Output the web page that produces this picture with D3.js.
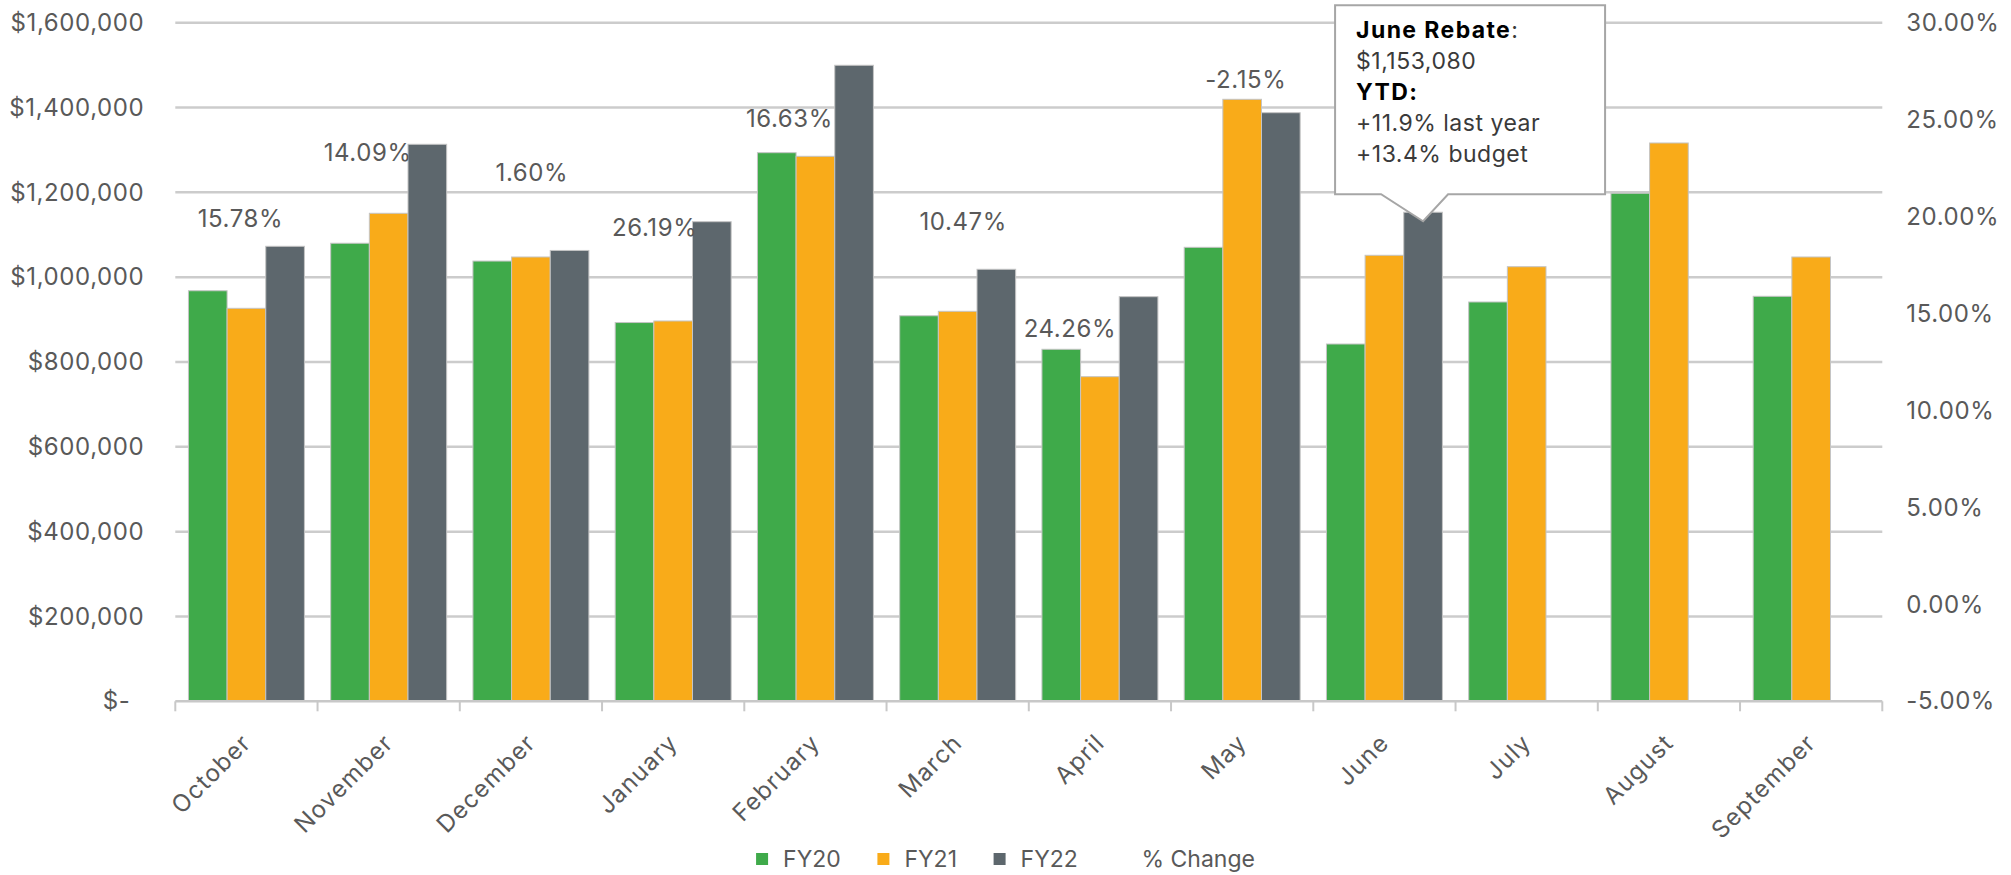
<!DOCTYPE html>
<html>
<head>
<meta charset="utf-8">
<script src="https://cdn.jsdelivr.net/npm/d3@7"></script>
<style>
  body { margin: 0; background: #fff; }
  svg { display: block; font-family: Inter, "DejaVu Sans", sans-serif; }
</style>
</head>
<body>
<div id="chart"></div>
<script>
// ---- data ----
const months = ["October", "November", "December", "January", "February", "March",
                "April", "May", "June", "July", "August", "September"];
const seriesNames = ["FY20", "FY21", "FY22"];
const fy20 = [968000, 1080000, 1038000, 893000, 1293500, 909000, 830000, 1070400, 842400, 941500, 1197800, 954900];
const fy21 = [926600, 1150600, 1047600, 896700, 1285000, 919500, 765400, 1419400, 1051600, 1024700, 1316400, 1047600];
const fy22 = [1072800, 1313300, 1063000, 1130800, 1499600, 1018600, 954000, 1387800, 1153080, null, null, null];
// % change labels (the line itself is hidden in the original)
const pctChange = [15.78, 14.09, 1.60, 26.19, 16.63, 10.47, 24.26, -2.15, null, null, null, null];
// where each % label was dragged to, in $ units of the left axis
const pctLabelAt = [1117600, 1273900, 1226800, 1097100, 1354800, 1111200, 859700, 1445300];
const leftTicks = [0, 200000, 400000, 600000, 800000, 1000000, 1200000, 1400000, 1600000];
const rightTicks = [-5, 0, 5, 10, 15, 20, 25, 30];
const callout = {month: "June", series: "FY22", value: 1153080};

// label nudges (px) so the % labels sit where they were placed
const pctLabelDx = [-6, -21, 1, -18.5, -26, 5.5, -30, 3.7];

const W = 2011, H = 875;
const plot = {left: 175.3, right: 1882.3, top: 22.7, bottom: 701.3};
const colors = {FY20: "#3faa4a", FY21: "#f9ab19", FY22: "#5d676d"};
const textGrey = "#595959";
const fmt = d3.formatLocale({decimal: ".", thousands: ",", grouping: [3], currency: ["$", ""], minus: "-"});

const svg = d3.select("#chart").append("svg")
    .attr("width", W)
    .attr("height", H);

const x0 = d3.scaleBand().domain(months).range([plot.left, plot.right]);
const x1 = d3.scaleBand().domain(seriesNames).range([0, x0.bandwidth()]).paddingOuter(0.34);
const yL = d3.scaleLinear().domain([0, 1600000]).range([plot.bottom, plot.top]);
const yR = d3.scaleLinear().domain([-5, 30]).range([plot.bottom, plot.top]);

// gridlines
svg.append("g")
    .selectAll("line")
    .data(leftTicks.filter(d => d > 0))
    .enter().append("line")
    .attr("x1", plot.left)
    .attr("x2", plot.right)
    .attr("y1", d => yL(d))
    .attr("y2", d => yL(d))
    .attr("stroke", "#cccccc")
    .attr("stroke-width", 2.5);

// left axis
let gl = svg.append("g")
    .attr("transform", "translate(" + plot.left + ",0)")
    .call(d3.axisLeft(yL).tickValues(leftTicks).tickSize(0).tickPadding(31)
        .tickFormat(d => d === 0 ? "$-" : "$" + fmt.format(",")(d)));
gl.select(".domain").remove();
gl.selectAll("text")
    .attr("font-size", 24)
    .attr("letter-spacing", 0.6)
    .attr("font-family", "Inter, sans-serif")
    .attr("fill", textGrey)
    .attr("dx", d => d === 0 ? -14 : 0);

// right axis
let gr = svg.append("g")
    .attr("transform", "translate(" + plot.right + ",0)")
    .call(d3.axisRight(yR).tickValues(rightTicks).tickSize(0).tickPadding(24)
        .tickFormat(d => fmt.format(".2f")(d) + "%"));
gr.select(".domain").remove();
gr.selectAll("text")
    .attr("font-size", 24)
    .attr("letter-spacing", 0.6)
    .attr("font-family", "Inter, sans-serif")
    .attr("fill", textGrey);

// bars
const table = months.map((m, i) => ({month: m, FY20: fy20[i], FY21: fy21[i], FY22: fy22[i]}));

svg.append("g")
    .selectAll("g")
    .data(table)
    .enter().append("g")
    .attr("transform", d => "translate(" + x0(d.month) + ",0)")
    .selectAll("rect")
    .data(d => seriesNames.map(k => ({key: k, value: d[k]})).filter(e => e.value != null))
    .enter().append("rect")
    .attr("x", d => x1(d.key))
    .attr("y", d => yL(d.value))
    .attr("width", x1.bandwidth())
    .attr("height", d => yL(0) - yL(d.value))
    .attr("fill", d => colors[d.key])
    .attr("stroke", "#c4c4c4")
    .attr("stroke-width", 1);

// x axis baseline + ticks
svg.append("line")
    .attr("x1", plot.left).attr("x2", plot.right)
    .attr("y1", plot.bottom).attr("y2", plot.bottom)
    .attr("stroke", "#c8c8c8")
    .attr("stroke-width", 2.5);

svg.append("g")
    .selectAll("line")
    .data(months.map(m => x0(m)).concat([plot.right]))
    .enter().append("line")
    .attr("x1", d => d).attr("x2", d => d)
    .attr("y1", plot.bottom).attr("y2", plot.bottom + 10)
    .attr("stroke", "#c8c8c8")
    .attr("stroke-width", 2);

svg.append("g")
    .selectAll("text")
    .data(months)
    .enter().append("text")
    .attr("transform", d => "translate(" + (x0(d) + x0.bandwidth() / 2 + 6) + "," + (plot.bottom + 43) + ") rotate(-45)")
    .attr("text-anchor", "end")
    .attr("font-size", 24)
    .attr("letter-spacing", 1.2)
    .attr("fill", textGrey)
    .text(d => d);

// % change labels
svg.append("g")
    .selectAll("text")
    .data(pctChange.map((p, i) => ({p: p, i: i})).filter(d => d.p != null))
    .enter().append("text")
    .attr("x", d => x0(months[d.i]) + x0.bandwidth() / 2 + pctLabelDx[d.i])
    .attr("y", d => yL(pctLabelAt[d.i]))
    .attr("text-anchor", "middle")
    .attr("font-size", 24)
    .attr("letter-spacing", 0.6)
    .attr("fill", textGrey)
    .text(d => fmt.format(".2f")(d.p) + "%");

// callout for the June bar
const tipX = x0(callout.month) + x1(callout.series) + x1.bandwidth() / 2;
const tipY = yL(callout.value) + 9;
const boxL = tipX - 88, boxR = boxL + 270, boxB = tipY - 27, boxT = boxB - 189;
const path = d3.path();
path.moveTo(boxL, boxT);
path.lineTo(boxR, boxT);
path.lineTo(boxR, boxB);
path.lineTo(tipX + 25, boxB);
path.lineTo(tipX, tipY);
path.lineTo(tipX - 42, boxB);
path.lineTo(boxL, boxB);
path.closePath();
svg.append("path")
    .attr("d", path.toString())
    .attr("fill", "#fff")
    .attr("stroke", "#a6a6a6")
    .attr("stroke-width", 2);

const ct = svg.append("text")
    .attr("font-size", 23)
    .attr("letter-spacing", 0.5)
    .attr("fill", "#3a3a3a");
let t1 = ct.append("tspan").attr("x", boxL + 21).attr("y", boxT + 33);
t1.append("tspan").attr("font-weight", "bold").attr("letter-spacing", 1.4).attr("fill", "#000").text("June Rebate");
t1.append("tspan").text(":");
ct.append("tspan").attr("x", boxL + 21).attr("y", boxT + 64).text("$" + fmt.format(",")(callout.value));
ct.append("tspan").attr("x", boxL + 21).attr("y", boxT + 95).attr("font-weight", "bold")
    .attr("letter-spacing", 1.4).attr("fill", "#000").text("YTD:");
ct.append("tspan").attr("x", boxL + 21).attr("y", boxT + 126).text("+11.9% last year");
ct.append("tspan").attr("x", boxL + 21).attr("y", boxT + 157).text("+13.4% budget");

// legend
const legendItems = seriesNames.map(s => ({name: s, color: colors[s]}))
    .concat([{name: "% Change", color: "none"}]);
const legend = svg.append("g");
let lx = 0;
legendItems.forEach(function(d) {
    let g = legend.append("g").attr("transform", "translate(" + lx + ",0)");
    g.append("rect")
        .attr("x", 0).attr("y", -6)
        .attr("width", 12).attr("height", 12)
        .attr("fill", d.color);
    let t = g.append("text")
        .attr("x", 27)
        .attr("dy", "0.35em")
        .attr("font-size", 23)
        .attr("fill", textGrey)
        .text(d.name);
    lx += 27 + t.node().getComputedTextLength() + 36.6;
});
lx -= 36.6;
legend.attr("transform", "translate(" + (W / 2 - lx / 2) + ",859)");
</script>
</body>
</html>
